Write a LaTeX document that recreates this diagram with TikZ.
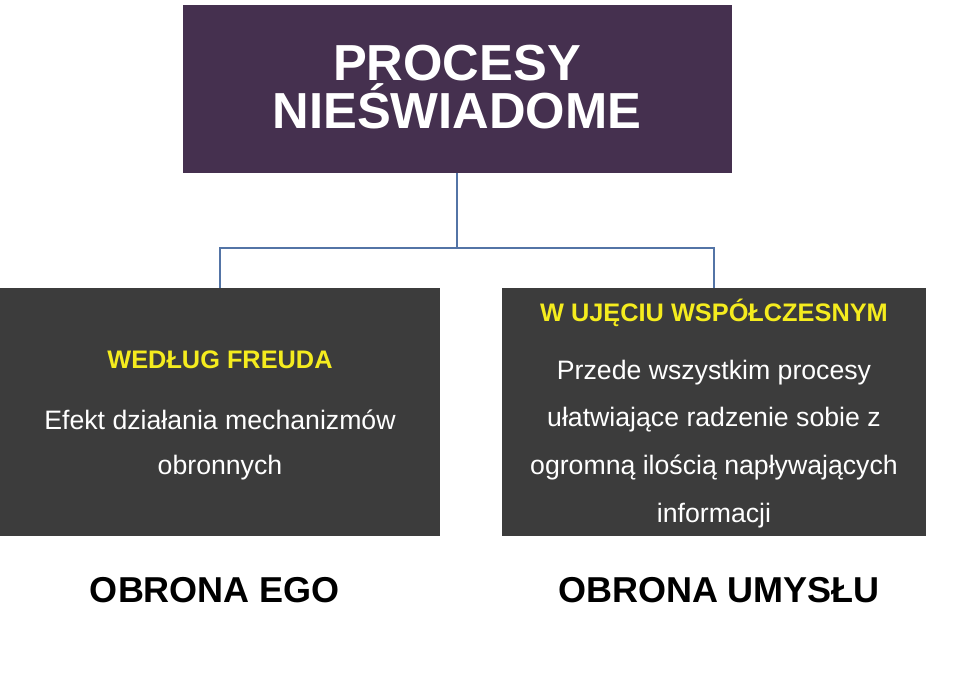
\documentclass[tikz,border=0pt]{standalone}
\usepackage{fontspec}
\setmainfont{Liberation Sans}
\usetikzlibrary{positioning}
\definecolor{topviolet}{HTML}{45304F}
\definecolor{boxgray}{HTML}{3C3C3C}
\definecolor{linkblue}{HTML}{5374A6}
\definecolor{headyellow}{HTML}{F5EC1E}
\tikzset{
  box/.style={fill=boxgray,inner sep=0pt},
  boxtext/.style={text=white,font=\fontsize{20}{24}\selectfont},
  boxhead/.style={text=headyellow,font=\bfseries\fontsize{19}{23}\selectfont},
  link/.style={draw=linkblue,line width=1.5pt},
  verdict/.style={font=\bfseries\fontsize{27}{32}\selectfont}
}
\begin{document}
\begin{tikzpicture}[x=0.75pt,y=-0.75pt]
\useasboundingbox (0,0) rectangle (960,687);
\fill[topviolet] (183,5) rectangle (732,173);
\node[text=white,font=\bfseries\fontsize{38}{38}\selectfont,align=center] (top) at (457,87) {PROCESY\\[-2pt]NIEŚWIADOME};
\fill[box] (0,288) rectangle (440,536);
\fill[box] (502,288) rectangle (926,536);
\coordinate (topfoot) at (457,173);
\coordinate (fork) at (457,248);
\coordinate (forkl) at (220,248);
\coordinate (forkr) at (714,248);
\coordinate (leftin) at (220,288);
\coordinate (rightin) at (714,288);
\draw[link] (topfoot) -- (fork);
\draw[link] (leftin) -- (forkl) -- (forkr) -- (rightin);
% left box
\node[boxhead] (freud) at (220,360) {WEDŁUG FREUDA};
\node[boxtext] (freud1) at (220,420) {Efekt działania mechanizmów};
\node[boxtext] (freud2) at (220,468) {obronnych};
% right box
\node[boxhead] (modern) at (714,313) {W UJĘCIU WSPÓŁCZESNYM};
\node[boxtext] (modern1) at (714,373) {Przede wszystkim procesy};
\node[boxtext] (modern2) at (714,420) {ułatwiające radzenie sobie z};
\node[boxtext] (modern3) at (714,467) {ogromną ilością napływających};
\node[boxtext] (modern4) at (714,516) {informacji};
\node[verdict] (ego) at (215,590) {OBRONA EGO};
\node[verdict] (mind) at (719,590) {OBRONA UMYSŁU};
\end{tikzpicture}
\end{document}
